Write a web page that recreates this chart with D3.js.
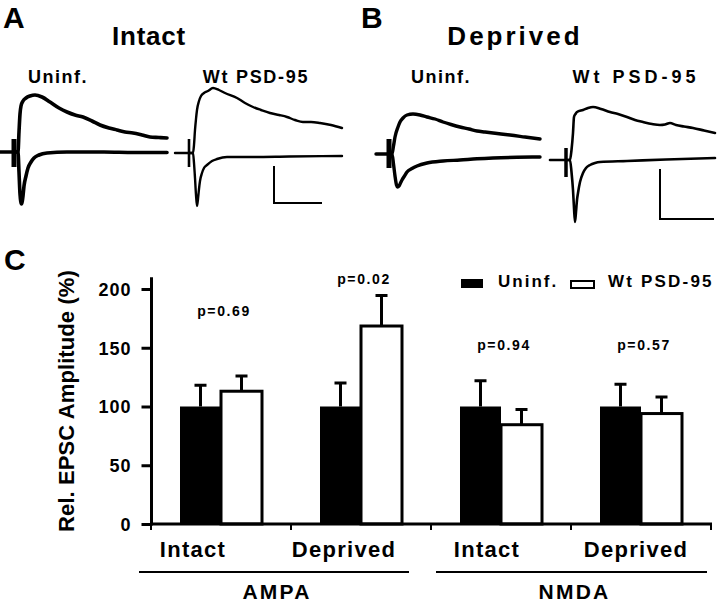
<!DOCTYPE html>
<html><head><meta charset="utf-8">
<script src="https://cdn.jsdelivr.net/npm/d3@7"></script>
<style>
html,body{margin:0;padding:0;background:#fff;}
text{font-family:"Liberation Sans",Arial,sans-serif;font-weight:bold;fill:#000;}
</style></head>
<body>
<svg id="fig" width="720" height="605"></svg>
<script>
// ---------- Panel C data ----------
const categories = ["Intact", "Deprived", "Intact", "Deprived"];
const receptors = ["AMPA", "NMDA"];
const seriesNames = ["Uninf.", "Wt PSD-95"];
const uninfMean = [100, 100, 100, 100];
const uninfSem = [18, 20, 22, 19];
const wtMean = [113, 168.5, 84.5, 94];
const wtSem = [13, 26, 13, 14];
const pValues = ["p=0.69", "p=0.02", "p=0.94", "p=0.57"];
const pLabelLevel = [177, 204, 148, 148];
const yTicks = [0, 50, 100, 150, 200];

// ---------- Panels A/B traces: [time (ms), current (pA)] ----------
const aUninfUpper = [[0,0],[4,0],[5,20],[6,38],[7,46],[9,51],[12,54],[16,56],[21,57],[28,55],[36,50],[45,44],[53,40],[61,37],[69,35],[78,31],[86,27],[95,24],[103,22],[111,20],[119,19],[128,17],[136,15],[145,14.5],[153,14]];
const aUninfLower = [[0,0],[4,0],[5,-20],[6,-42],[7.5,-52],[9,-44],[10,-34],[12,-24],[14,-16],[17,-10],[20,-6],[25,-3],[33,-1],[53,0],[90,0],[120,-0.5],[153,-0.5]];
const aWtUpper = [[0,0],[4,0],[5,8],[6,23],[7,34],[8,43],[10,52],[12,57],[15,60],[19,62],[24,65],[30,63],[36,60],[48,55],[56,50],[64,46],[72,43],[81,40],[90,38],[98,36],[106,33],[114,31],[122,31],[131,30],[142,28],[153,25]];
const aWtLower = [[0,0],[4,0],[5,-10],[6,-25],[7,-42],[8,-53],[9,-46],[10,-36],[11,-28],[13,-20],[15,-15],[18,-12],[23,-8],[28,-6],[38,-4],[64,-4],[100,-3.5],[153,-3]];
const bUninfUpper = [[0,0],[3,0],[4.5,8],[6,17],[9,27],[11,32],[14,36],[18,39],[24,40],[31,39],[38,37],[46,35],[54,32],[62,29.5],[71,27],[80,25],[88,23],[96,22],[104,21],[112,20],[121,19],[136,17],[151,15]];
const bUninfLower = [[0,0],[3,0],[4.5,-10],[6,-22],[7.5,-31],[8.5,-33],[10,-32],[11.5,-29],[13,-26],[15.5,-22],[18,-18],[23,-14.5],[28,-12],[38,-9],[54,-7],[71,-6],[88,-4.8],[104,-4],[128,-3.3],[151,-3]];
const bWtUpper = [[0,0],[4,0],[5.5,10],[7,27],[8,43],[9.5,46],[11,48],[17,50],[22,52],[27,53],[35,51],[44,48],[52,46],[61,43],[69,40],[77,38],[86,36],[94,35],[99,35.5],[104,37],[110,35],[118,33.5],[127,32],[138,29.5],[149,27]];
const bWtLower = [[0,0],[4,0],[5.5,-12],[7,-30],[8,-48],[9,-62],[10,-52],[11,-40],[12,-33],[14,-22],[17,-13],[20,-8],[24,-5],[29,-3],[34,-2],[61,-1],[100,0.5],[149,2]];

// stimulus artifacts [top pA, bottom pA] and lead-in start time
const artifactA1 = [13, -15], artifactA2 = [14, -14], artifactB1 = [15, -14], artifactB2 = [12, -17];
const leadStart = [-14, -14, -13, -16];
// scale bars: [corner time, corner current, length time, length current]
const scaleBarA = [85, -50, 48, 37];
const scaleBarB = [94, -59, 54, 50];

const svg = d3.select("#fig");

// ---------- Panel letters & titles ----------
function txt(x, y, s, size, ls, anchor) {
  return svg.append("text").attr("x", x).attr("y", y).attr("font-size", size)
    .attr("letter-spacing", ls || 0).attr("text-anchor", anchor || "start").text(s);
}
txt(3, 28, "A", 30, 0);
txt(361, 28, "B", 30, 0);
txt(4, 270, "C", 30, 0);
txt(149, 45, "Intact", 26, 0.8, "middle");
txt(515, 45, "Deprived", 26, 3, "middle");
txt(58, 83, "Uninf.", 18, 1.5, "middle");
txt(256, 83, "Wt PSD-95", 18, 1.7, "middle");
txt(441, 83, "Uninf.", 18, 1.5, "middle");
txt(636, 83, "Wt PSD-95", 18, 4, "middle");

// ---------- Trace panels ----------
const panels = [
  {xs: 14, yb: 152, up: aUninfUpper, lo: aUninfLower, art: artifactA1, lead: leadStart[0], w: 3.6, aw: 5},
  {xs: 189, yb: 153, up: aWtUpper, lo: aWtLower, art: artifactA2, lead: leadStart[1], w: 2.4, aw: 2.6, bar: scaleBarA},
  {xs: 389, yb: 154, up: bUninfUpper, lo: bUninfLower, art: artifactB1, lead: leadStart[2], w: 3.4, aw: 5},
  {xs: 566, yb: 160, up: bWtUpper, lo: bWtLower, art: artifactB2, lead: leadStart[3], w: 2.6, aw: 3.5, bar: scaleBarB}
];
panels.forEach(p => {
  const x = d3.scaleLinear().domain([-20, 160]).range([p.xs - 20, p.xs + 160]);
  const y = d3.scaleLinear().domain([-70, 70]).range([p.yb + 70, p.yb - 70]);
  const line = d3.line().x(d => x(d[0])).y(d => y(d[1])).curve(d3.curveMonotoneX);
  const g = svg.append("g").attr("fill", "none").attr("stroke", "#000")
    .attr("stroke-linejoin", "round").attr("stroke-linecap", "round");
  g.append("line").attr("x1", x(p.lead)).attr("x2", x(0)).attr("y1", y(0)).attr("y2", y(0))
    .attr("stroke-width", p.w);
  g.append("line").attr("x1", x(0)).attr("x2", x(0)).attr("y1", y(p.art[0])).attr("y2", y(p.art[1]))
    .attr("stroke-width", p.aw).attr("stroke-linecap", "butt");
  g.append("path").attr("d", line(p.up)).attr("stroke-width", p.w);
  g.append("path").attr("d", line(p.lo)).attr("stroke-width", p.w);
  if (p.bar) {
    const b = p.bar;
    g.append("path").attr("stroke-width", 2).attr("stroke-linecap", "butt").attr("stroke-linejoin", "miter")
      .attr("d", `M${x(b[0])},${y(b[1] + b[3])}V${y(b[1])}H${x(b[0] + b[2])}`);
  }
});

// ---------- Panel C bar chart ----------
const yS = d3.scaleLinear().domain([0, 200]).range([524, 289]);
const xS = d3.scaleBand().domain(d3.range(categories.length)).range([151, 711]).padding(0);
const xSub = d3.scaleBand().domain(seriesNames).range([29, 111]).padding(0);
const bw = xSub.bandwidth();

const chart = svg.append("g");
// y axis
chart.append("line").attr("x1", 151.5).attr("x2", 151.5).attr("y1", yS(210)).attr("y2", yS(0) + 1.5)
  .attr("stroke", "#000").attr("stroke-width", 3);
const yAxis = d3.axisLeft(yS).tickValues(yTicks).tickSize(10).tickPadding(10).tickFormat(d3.format("d"));
const yg = chart.append("g").attr("transform", "translate(151.5,0)").call(yAxis);
yg.select(".domain").remove();
yg.selectAll(".tick line").attr("stroke-width", 3);
yg.selectAll(".tick text").attr("font-size", 18).attr("letter-spacing", 1)
  .attr("font-family", "Liberation Sans, Arial, sans-serif").attr("font-weight", "bold").attr("dy", "0.36em");

chart.append("text").attr("transform", `translate(74,401) rotate(-90)`).attr("text-anchor", "middle")
  .attr("font-size", 22).attr("letter-spacing", 0.1).text("Rel. EPSC Amplitude (%)");

// bars
const data = categories.map((c, i) => ({i, c, vals: [
  {s: seriesNames[0], m: uninfMean[i], e: uninfSem[i]},
  {s: seriesNames[1], m: wtMean[i], e: wtSem[i]}]}));

const gg = chart.selectAll(".grp").data(data).enter().append("g").attr("class", "grp")
  .attr("transform", d => `translate(${xS(d.i)},0)`);
// error bars (drawn behind bars)
gg.selectAll(".err").data(d => d.vals).enter().append("path")
  .attr("fill", "none").attr("stroke", "#000").attr("stroke-width", 3)
  .attr("d", d => {
    const cx = xSub(d.s) + bw / 2;
    return `M${cx},${yS(d.m)}V${yS(d.m + d.e)}M${cx - 6},${yS(d.m + d.e)}H${cx + 6}`;
  });
gg.selectAll(".bar").data(d => d.vals).enter().append("rect")
  .attr("x", d => xSub(d.s))
  .attr("y", d => yS(d.m))
  .attr("width", bw)
  .attr("height", d => yS(0) - yS(d.m))
  .attr("fill", d => d.s === seriesNames[0] ? "#000" : "#fff")
  .attr("stroke", "#000").attr("stroke-width", d => d.s === seriesNames[0] ? 0 : 3);

// p-value labels
gg.append("text").attr("x", 73).attr("y", d => yS(pLabelLevel[d.i]))
  .attr("text-anchor", "middle").attr("font-size", 14).attr("letter-spacing", 1.6)
  .text(d => pValues[d.i]);

// x axis
chart.append("line").attr("x1", 150).attr("x2", 712).attr("y1", 524).attr("y2", 524)
  .attr("stroke", "#000").attr("stroke-width", 3);
const xBounds = d3.range(categories.length + 1).map(i => i < categories.length ? xS(i) : xS.range()[1]);
chart.selectAll(".xt").data(xBounds).enter().append("line")
  .attr("x1", d => d).attr("x2", d => d).attr("y1", 524).attr("y2", 530)
  .attr("stroke", "#000").attr("stroke-width", 2);

// category labels
const catDx = [-28, -17, -14, -5];
chart.selectAll(".cat").data(categories).enter().append("text")
  .attr("x", (d, i) => xS(i) + xS.bandwidth() / 2 + catDx[i]).attr("y", 557)
  .attr("text-anchor", "middle").attr("font-size", 22).attr("letter-spacing", 1.3).text(d => d);

// receptor group lines & labels
const recSpan = [[-12, -22], [5, -4]];
receptors.forEach((r, k) => {
  const x0 = xS(2 * k) + recSpan[k][0];
  const x1 = xS(2 * k + 1) + xS.bandwidth() + recSpan[k][1];
  chart.append("line").attr("x1", x0).attr("x2", x1).attr("y1", 572).attr("y2", 572)
    .attr("stroke", "#000").attr("stroke-width", 2.2);
  chart.append("text").attr("x", (x0 + x1) / 2 + 3).attr("y", 599).attr("text-anchor", "middle")
    .attr("font-size", 21).attr("letter-spacing", 2.2).text(r);
});

// legend
const leg = chart.append("g");
leg.append("rect").attr("x", 461).attr("y", 279).attr("width", 22).attr("height", 9).attr("fill", "#000");
leg.append("text").attr("x", 498).attr("y", 287).attr("font-size", 17).attr("letter-spacing", 2).text(seriesNames[0]);
leg.append("rect").attr("x", 571).attr("y", 281).attr("width", 23).attr("height", 7)
  .attr("fill", "#fff").attr("stroke", "#000").attr("stroke-width", 2);
leg.append("text").attr("x", 608).attr("y", 287).attr("font-size", 17).attr("letter-spacing", 2.2).text(seriesNames[1]);
</script>
</body></html>
